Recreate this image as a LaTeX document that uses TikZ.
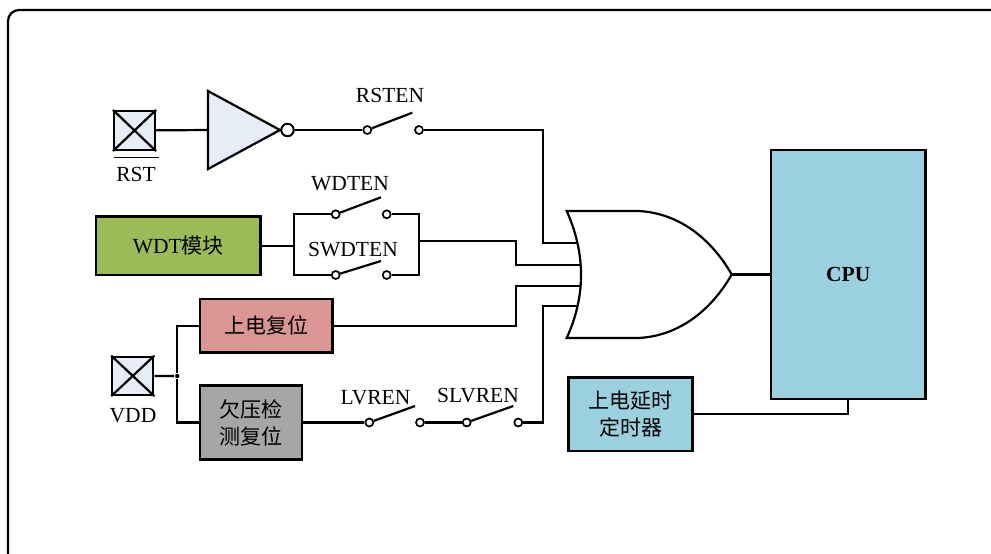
\documentclass[tikz,border=0pt]{standalone}
\usepackage{fontspec}
\setmainfont{Liberation Serif}
\newfontfamily\cjk{Noto Sans CJK SC}
\definecolor{padblue}{HTML}{E6EDF7}
\definecolor{wdtgreen}{HTML}{9BBB59}
\definecolor{porpink}{HTML}{D99694}
\definecolor{lvdgray}{HTML}{A6A6A6}
\definecolor{cpublue}{HTML}{9BD0DF}

\begin{document}
\begin{tikzpicture}[x=1pt,y=-1pt,line width=2.2pt]
\tikzset{box/.style={draw, line width=2.5pt, inner sep=0pt, align=center, font=\fontsize{21.5}{27}\selectfont},
	cjkbox/.style={box, font=\fontsize{21}{27}\selectfont\cjk},
	padbox/.style={draw, fill=padblue, minimum width=41pt, minimum height=39pt, inner sep=0pt},
	contact/.style={draw, circle, fill=white, line width=1.7pt, minimum size=8pt, inner sep=0pt},
	lbl/.style={font=\fontsize{21.5}{24}\selectfont, inner sep=0pt},
	junction/.style={circle, fill, minimum size=4.5pt, inner sep=0pt}}

\useasboundingbox (0,0) rectangle (991,554);
\draw[rounded corners=11pt] (8,10) rectangle (1012,575);

\node[padbox] (rst-pad) at (134.5,130.5) {};
\draw (rst-pad.north west) -- (rst-pad.south east) (rst-pad.north east) -- (rst-pad.south west);
\node[lbl] (rst-lbl) at (136,174) {RST};
\coordinate (rst-bar-l) at (114,157);
\coordinate (rst-bar-r) at (159,157);
\draw[line width=1pt] (rst-bar-l) -- (rst-bar-r);

\coordinate (buf-in) at (208,130);
\coordinate (buf-top) at (208,91);
\coordinate (buf-tip) at (280,130);
\coordinate (buf-bot) at (208,169);
\draw[fill=padblue] (buf-top) -- (buf-tip) -- (buf-bot) -- cycle;
\node[contact, line width=2pt, minimum size=12.5pt] (bubble) at (287.5,130) {};
\draw (rst-pad) -- (buf-in);

\node[contact] (rsten-a) at (367.3,130) {};
\node[contact] (rsten-b) at (419,130) {};
\coordinate (rsten-lev) at (412.3,112.7);
\node[lbl] (rsten-lbl) at (390,95) {RSTEN};
\draw (bubble) -- (rsten-a);
\draw (rsten-a) -- (rsten-lev);

\node[box, fill=wdtgreen, minimum width=164.7pt, minimum height=58.3pt] (wdt) at (178.3,245.8) {WDT{\cjk\fontsize{21}{27}\selectfont 模块}};
\coordinate (par-l) at (294,245.8);
\coordinate (par-r) at (419,241);
\node[contact] (wdten-a) at (335.7,214.3) {};
\node[contact] (wdten-b) at (386.7,214.3) {};
\coordinate (wdten-lev) at (381,197.3);
\node[contact] (swdten-a) at (335.7,275) {};
\node[contact] (swdten-b) at (386.7,275) {};
\coordinate (swdten-lev) at (381,261);
\node[lbl] (wdten-lbl) at (350,184) {WDTEN};
\node[lbl] (swdten-lbl) at (353,250) {SWDTEN};
\draw (wdt) -- (par-l);
\draw (wdten-a) -| (par-l) |- (swdten-a);
\draw (wdten-b) -| (par-r) |- (swdten-b);
\draw (wdten-a) -- (wdten-lev);
\draw (swdten-a) -- (swdten-lev);

\node[padbox, minimum height=38.3pt] (vdd-pad) at (132.8,375.9) {};
\draw (vdd-pad.north west) -- (vdd-pad.south east) (vdd-pad.north east) -- (vdd-pad.south west);
\node[lbl] (vdd-lbl) at (133,416) {VDD};
\node[junction] (junc) at (177.3,376) {};
\node[cjkbox, fill=porpink, minimum width=132.3pt, minimum height=53.3pt] (por) at (266.2,325.7) {上电复位};
\node[cjkbox, fill=lvdgray, minimum width=102pt, minimum height=74pt] (lvd) at (251,422.5) {欠压检\\测复位};
\draw (vdd-pad) -- (junc);
\draw (por.west) -| (junc) |- (lvd.west);

\node[contact] (lvren-a) at (369.3,422.5) {};
\node[contact] (lvren-b) at (420,422.5) {};
\coordinate (lvren-lev) at (415,406);
\node[contact] (slvren-a) at (466.7,422.5) {};
\node[contact] (slvren-b) at (518.3,422.5) {};
\coordinate (slvren-lev) at (513.3,406);
\node[lbl] (lvren-lbl) at (375.5,398) {LVREN};
\node[lbl] (slvren-lbl) at (478,396) {SLVREN};
\draw (lvd) -- (lvren-a);
\draw (lvren-a) -- (lvren-lev);
\draw (lvren-b) -- (slvren-a);
\draw (slvren-a) -- (slvren-lev);

\coordinate (or-bt) at (566.7,211);
\coordinate (or-bb) at (566.7,338);
\coordinate (or-ft) at (638.3,211);
\coordinate (or-fb) at (638.3,338);
\coordinate (or-out) at (731.7,274.5);
\coordinate (or-in1) at (577.3,242.7);
\coordinate (or-in2) at (580.6,265);
\coordinate (or-in3) at (580.6,286);
\coordinate (or-in4) at (577.6,306);
\draw (rsten-b) -| (542.7,242.7) -- (or-in1);
\draw (par-r) -| (516,265) -- (or-in2);
\draw (por) -| (516,286) -- (or-in3);
\draw (slvren-b) -| (543.3,306) -- (or-in4);
\draw[fill=white] (or-bt) -- (or-ft) .. controls (680,213) and (712,240) .. (or-out) .. controls (712,309) and (680,336) .. (or-fb) -- (or-bb) .. controls (585.8,296.3) and (585.8,253.7) .. (or-bt) -- cycle;

\node[box, fill=cpublue, minimum width=154.7pt, minimum height=249pt, font=\fontsize{21.5}{24}\selectfont\bfseries] (cpu) at (848.3,274.5) {CPU};
\node[cjkbox, fill=cpublue, minimum width=124.4pt, minimum height=73.3pt] (timer) at (630.5,414.3) {上电延时\\定时器};
\draw (or-out) -- (or-out -| cpu.west);
\draw (timer) -| (cpu.south);

\end{tikzpicture}
\end{document}
